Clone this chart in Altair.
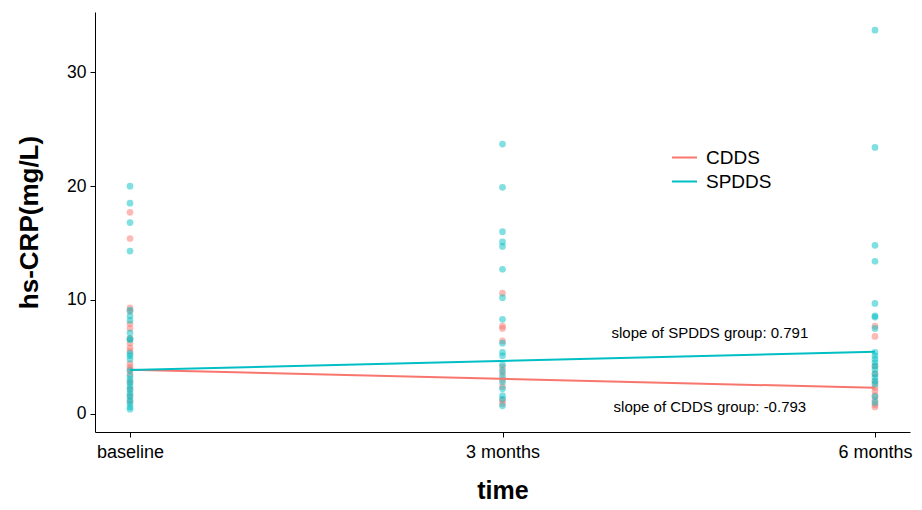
import altair as alt
import pandas as pd

groups = ["CDDS", "SPDDS"]
colors = ["#F8766D", "#00BFC4"]
time_months = [0, 3, 6]
time_labels = ["baseline", "3 months", "6 months"]

cdds_baseline = [17.7, 15.4, 9.3, 9.0, 7.9, 7.5, 6.6, 6.2, 5.8, 5.5, 4.4, 4.1, 3.9, 3.5, 2.8, 2.2, 1.6, 1.1]
spdds_baseline = [20.0, 18.5, 16.8, 14.3, 9.1, 8.6, 8.2, 7.1, 6.6, 6.5, 5.3, 5.1, 4.8, 3.8, 3.3,
                  3.0, 2.7, 2.4, 2.1, 1.8, 1.5, 1.2, 0.9, 0.6, 0.4]
cdds_3m = [10.6, 7.7, 7.5, 6.4, 4.1, 3.6, 3.0, 2.4, 1.2, 0.9]
spdds_3m = [23.7, 19.9, 16.0, 15.1, 14.7, 12.7, 10.2, 8.3, 6.2, 5.4, 5.1, 4.3, 3.8, 3.3, 2.8,
            2.2, 1.6, 1.3, 0.7]
cdds_6m = [7.7, 6.8, 4.2, 3.5, 2.8, 2.3, 2.0, 1.6, 1.2, 0.8, 0.6]
spdds_6m = [33.7, 23.4, 14.8, 13.4, 9.7, 8.6, 8.5, 7.5, 5.4, 5.1, 4.8, 4.5, 4.2, 3.9, 3.5,
            3.2, 2.9, 2.6, 1.5, 1.0]

# fitted line values at baseline and 6 months
line_times = [0, 6]
cdds_line = [3.87, 2.28]
spdds_line = [3.85, 5.44]

annot_text = ["slope of SPDDS group: 0.791", "slope of CDDS group: -0.793"]
annot_x = [4.67, 4.67]
annot_y = [7.1, 0.6]

rows = []
for g, series in [("CDDS", [cdds_baseline, cdds_3m, cdds_6m]),
                  ("SPDDS", [spdds_baseline, spdds_3m, spdds_6m])]:
    for t, vals in zip(time_months, series):
        for v in vals:
            rows.append({"group": g, "time": t, "crp": v})
pts = pd.DataFrame(rows)

lrows = []
for g, vals in [("CDDS", cdds_line), ("SPDDS", spdds_line)]:
    for t, v in zip(line_times, vals):
        lrows.append({"group": g, "time": t, "crp": v})
lines = pd.DataFrame(lrows)

ann = pd.DataFrame({"text": annot_text, "time": annot_x, "crp": annot_y})

label_expr = "datum.value == 0 ? 'baseline' : datum.value == 3 ? '3 months' : '6 months'"

xscale = alt.Scale(domain=[-0.282, 6.282], nice=False, zero=False)
yscale = alt.Scale(domain=[-1.6, 35.3], nice=False, zero=False)

xaxis = alt.Axis(values=time_months, labelExpr=label_expr, title="time", grid=False,
                 titleFontSize=25, titleFontWeight="bold", titlePadding=17,
                 labelFontSize=18, labelColor="black", labelPadding=6,
                 domainColor="black", tickColor="black", tickSize=5,
                 labelFont="Liberation Sans", titleFont="Liberation Sans")
yaxis = alt.Axis(values=[0, 10, 20, 30], title="hs-CRP(mg/L)", grid=False,
                 titleFontSize=26, titleFontWeight="bold", titlePadding=24,
                 labelFontSize=17.5, labelColor="black", labelPadding=4,
                 domainColor="black", tickColor="black", tickSize=5,
                 labelFont="Liberation Sans", titleFont="Liberation Sans")

color_scale = alt.Scale(domain=groups, range=colors)
legend = alt.Legend(title=None, orient="none", legendX=576, legendY=132,
                    symbolType="stroke", symbolSize=625, symbolStrokeWidth=2,
                    symbolOpacity=1,
                    labelFontSize=19, labelColor="black", labelFont="Liberation Sans",
                    labelOffset=8, rowPadding=0)

points = alt.Chart(pts).mark_circle(size=45, opacity=0.5).encode(
    x=alt.X("time:Q", scale=xscale, axis=xaxis),
    y=alt.Y("crp:Q", scale=yscale, axis=yaxis),
    color=alt.Color("group:N", scale=color_scale, legend=legend),
)

line_layer = alt.Chart(lines).mark_line(strokeWidth=2).encode(
    x=alt.X("time:Q", scale=xscale),
    y=alt.Y("crp:Q", scale=yscale),
    color=alt.Color("group:N", scale=color_scale, legend=legend),
)

text_layer = alt.Chart(ann).mark_text(fontSize=15, font="Liberation Sans", color="black").encode(
    x=alt.X("time:Q", scale=xscale),
    y=alt.Y("crp:Q", scale=yscale),
    text="text:N",
)

chart = alt.layer(points, line_layer, text_layer).properties(
    width=815, height=420,
    autosize=alt.AutoSizeParams(type="none"),
    padding={"left": 87, "top": 4, "right": 4, "bottom": 70},
).configure(font="Liberation Sans").configure_view(stroke=None)

chart.save("out.html", embed_options={"renderer": "svg", "actions": False})
